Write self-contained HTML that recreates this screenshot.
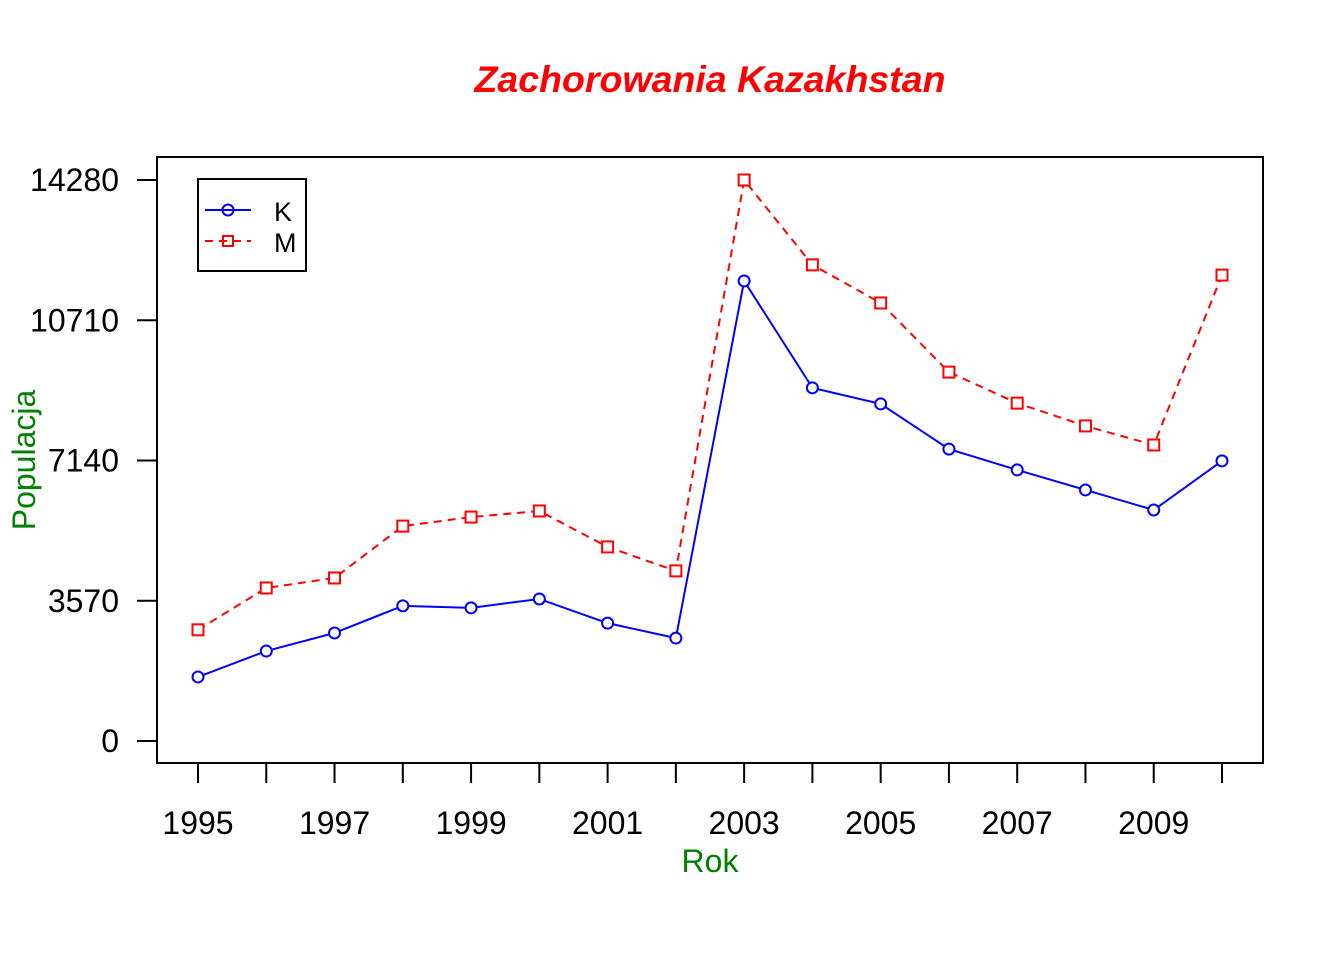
<!DOCTYPE html>
<html><head><meta charset="utf-8"><style>
body{margin:0;background:#fff}
svg{display:block;font-family:"Liberation Sans",Arial,sans-serif}
</style></head><body>
<svg id="chart" width="1344" height="960">
<rect width="1344" height="960" fill="#fff"/>
<text x="710" y="92" text-anchor="middle" font-size="37.5" font-weight="bold" font-style="italic" fill="#ff0000">Zachorowania Kazakhstan</text>
<rect x="157" y="157" width="1106" height="606" fill="none" stroke="#000" stroke-width="2"/>
<text x="710" y="872" text-anchor="middle" font-size="32" fill="#008000">Rok</text>
<text transform="translate(35,460) rotate(-90)" text-anchor="middle" font-size="32" fill="#008000">Populacja</text>
<g id="axes"></g>
<g id="series"></g>
<g>
<rect x="198" y="179" width="108" height="92" fill="#fff" stroke="#000" stroke-width="2"/>
<g>
<line x1="205" y1="210" x2="251" y2="210" stroke="#0000ff" stroke-width="2"/>
<circle cx="228" cy="210" r="5.5" fill="none" stroke="#0000ff" stroke-width="2"/>
<text x="274" y="221" font-size="27">K</text></g>
<g>
<line x1="205" y1="241" x2="251" y2="241" stroke="#ff0000" stroke-width="2" stroke-dasharray="8,6"/>
<rect x="223" y="236" width="10" height="10" fill="none" stroke="#ff0000" stroke-width="2"/>
<text x="274" y="252" font-size="27">M</text></g>
</g>
</svg>
<script>
const years=[1995,1996,1997,1998,1999,2000,2001,2002,2003,2004,2005,2006,2007,2008,2009,2010];
const seriesK=[1630,2290,2750,3440,3390,3615,3000,2620,11710,8990,8580,7430,6900,6390,5880,7130];
const seriesM=[2830,3895,4150,5470,5700,5855,4940,4330,14280,12120,11150,9390,8600,8020,7535,11860];
const yTicks=[0,3570,7140,10710,14280];
const xTickLabels=[1995,1997,1999,2001,2003,2005,2007,2009];
const NS="http://www.w3.org/2000/svg";
const xs=v=>198+(v-1995)*(1222-198)/15;
const ys=v=>741-v*(561/14280);
function mk(tag,attrs,parent){const e=document.createElementNS(NS,tag);for(const k in attrs)e.setAttribute(k,attrs[k]);parent.appendChild(e);return e;}
const ax=document.getElementById('axes');
yTicks.forEach(t=>{
 const l=mk('line',{x1:137,x2:157,y1:ys(t),y2:ys(t),stroke:'#000','stroke-width':2},ax);
 
 
 const tx=mk('text',{x:119,y:ys(t)+11,'text-anchor':'end','font-size':32},ax);tx.textContent=t;
 
 
});
years.forEach(y=>{
 const l=mk('line',{x1:xs(y),x2:xs(y),y1:763,y2:783,stroke:'#000','stroke-width':2},ax);
 
 
});
xTickLabels.forEach(y=>{
 const tx=mk('text',{x:xs(y),y:834,'text-anchor':'middle','font-size':32},ax);tx.textContent=y;
 
 
});
const sg=document.getElementById('series');
function draw(vals,color,dash,shape,name){
 const g=mk('g',{},sg);
 
 
 const pts=vals.map((v,i)=>xs(years[i])+','+ys(v)).join(' ');
 const a={points:pts,fill:'none',stroke:color,'stroke-width':2};if(dash)a['stroke-dasharray']=dash;
 mk('polyline',a,g);
 vals.forEach((v,i)=>{
  let m;
  if(shape==='c')m=mk('circle',{cx:xs(years[i]),cy:ys(v),r:5.5,fill:'#fff',stroke:color,'stroke-width':2},g);
  else m=mk('rect',{x:xs(years[i])-5.5,y:ys(v)-5.5,width:11,height:11,fill:'#fff',stroke:color,'stroke-width':2},g);
  
  
 });
}
draw(seriesM,'#ff0000','8,6','s','series-m');
draw(seriesK,'#0000ff',null,'c','series-k');
</script>
</body></html>
